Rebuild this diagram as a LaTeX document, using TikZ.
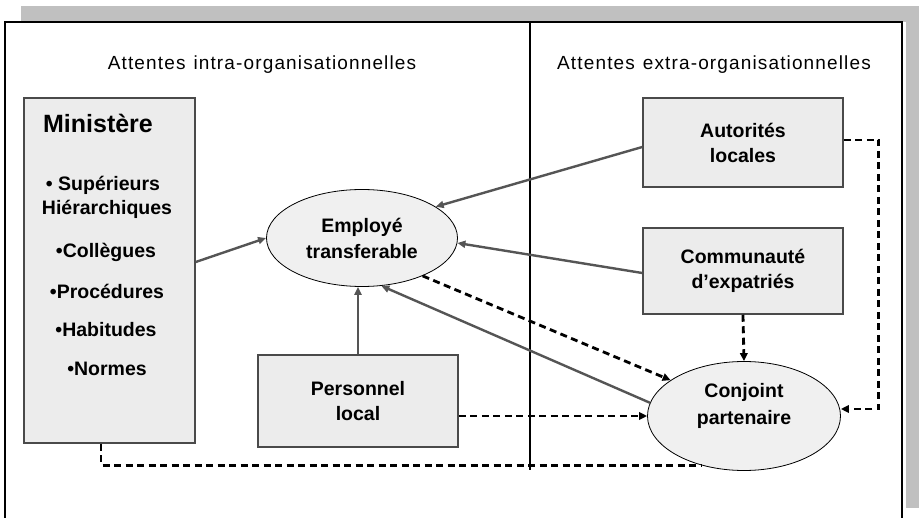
\documentclass[tikz,border=0pt]{standalone}
\usepackage{fontspec}
\setmainfont{Liberation Sans}
\newfontfamily\headfont[LetterSpace=6]{Liberation Sans}
\usetikzlibrary{arrows.meta,shapes.geometric}
\definecolor{boxfill}{HTML}{ECECEC}
\definecolor{ellfill}{HTML}{F0F0F0}
\definecolor{boxline}{HTML}{4A4A4A}
\definecolor{arrowgray}{HTML}{555555}
\definecolor{shadowgray}{HTML}{C0C0C0}
\begin{document}
\begin{tikzpicture}[x=1pt,y=-1pt,
  box/.style={rectangle,draw=boxline,line width=1.5pt,fill=boxfill,inner sep=0pt,align=center,
    font=\fontsize{19.5}{25}\selectfont\bfseries},
  ell/.style={ellipse,draw=black,line width=0.8pt,fill=ellfill,inner sep=0pt,align=center,
    font=\fontsize{19.5}{26}\selectfont\bfseries},
  item/.style={inner sep=0pt,font=\fontsize{19.5}{23}\selectfont\bfseries},
  head/.style={inner sep=0pt,font=\headfont\fontsize{19}{20}\selectfont},
  garrow/.style={draw=arrowgray,line width=2.4pt,-{Triangle[length=8pt,width=7pt]}},
  darrow/.style={draw=black,line width=2.8pt,dash pattern=on 7pt off 4.5pt,-{Triangle[length=8pt,width=7.5pt]}},
  dline/.style={draw=black,line width=2.8pt,dash pattern=on 7pt off 4.5pt}]
\useasboundingbox (0,0) rectangle (919,518);
% background frame
\fill[shadowgray] (21,6) rectangle (919,508);
\fill[white] (3,22) rectangle (906,530);
\draw[black,line width=1.8pt] (5,530) -- (5,22) -- (902,22) -- (902,530);
\draw[black,line width=1.6pt] (530,22) -- (530,470);
% headings
\node[head] (h1) at (262,65) {Attentes\hspace{8pt}intra-organisationnelles};
\node[head] (h2) at (714,65) {Attentes\hspace{8pt}extra-organisationnelles};
% Ministere
\node[box,minimum width=171pt,minimum height=345pt] (min) at (109.5,270.5) {};
\node[inner sep=0pt,font=\fontsize{25}{26}\selectfont\bfseries] (mt) at (98,123) {Ministère};
\node[item] (i1) at (103,185) {• Supérieurs};
\node[item] (i2) at (107,209) {Hiérarchiques};
\node[item] (i3) at (106,252) {•Collègues};
\node[item] (i4) at (107,291) {•Procédures};
\node[item] (i5) at (106,330) {•Habitudes};
\node[item] (i6) at (107,369) {•Normes};
% other nodes
\node[ell,minimum width=191pt,minimum height=97pt] (emp) at (362,238) {Employé\\transferable};
\node[box,minimum width=200pt,minimum height=92pt] (pers) at (358,401) {Personnel\\local};
\node[box,minimum width=200pt,minimum height=89pt] (aut) at (743,142.5) {Autorités\\locales};
\node[box,minimum width=200pt,minimum height=86pt] (com) at (743,271) {Communauté\\d'expatriés};
\node[ell,minimum width=193pt,minimum height=109pt] (conj) at (744,416) {};
\node[inner sep=0pt,align=center,font=\fontsize{19.5}{27}\selectfont\bfseries] (conjt) at (744,406) {Conjoint\\partenaire};
% solid gray arrows
\draw[garrow] ([yshift=8.5pt]min.east) -- (emp.west);
\draw[garrow] ([yshift=-4.5pt]aut.west) -- (emp.23);
\draw[garrow] ([yshift=-2pt]com.west) -- (emp.-3);
\draw[garrow] (pers.north) -- (pers.north |- emp.south);
\draw[garrow] (conj.172) -- (emp.-68);
% dashed arrows
\draw[darrow] (emp.-32.5) -- (conj.154);
\draw[darrow] (pers.east |- conj.west) -- (conj.west);
\draw[darrow] (com.south) -- (conj.north);
\draw[darrow] ([yshift=2.5pt]aut.east) -- ++(35,0) |- ([yshift=7pt]conj.east);
\draw[dline] ([xshift=-8.5pt]min.south) |- (conj.229);
\end{tikzpicture}
\end{document}
